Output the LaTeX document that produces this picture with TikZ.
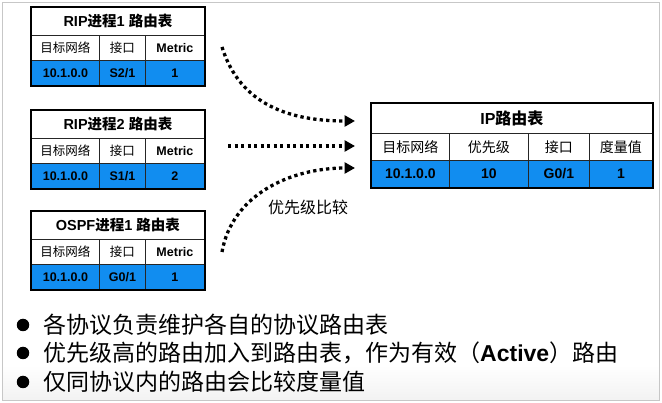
\documentclass[tikz,border=0pt]{standalone}
\usepackage{fontspec}
\setmainfont{Liberation Sans}
\newfontfamily\cjk{Noto Sans CJK SC}
\usetikzlibrary{arrows.meta}
\definecolor{cellblue}{RGB}{17,141,240}
\tikzset{
  cell/.style={draw=black!85, line width=0.8pt, anchor=north west, inner sep=0pt, align=center},
  bluecell/.style={cell, fill=cellblue},
  tabframe/.style={draw=black, line width=1.8pt},
  flow/.style={line width=3.3pt, dash pattern=on 3.3pt off 3.2pt, line cap=butt, -{Triangle[length=10.5pt,width=11pt]}},
  smtitle/.style={font=\bfseries\fontsize{14.5}{16}\selectfont},
  smhead/.style={font=\fontsize{12.5}{14}\selectfont},
  smdata/.style={font=\bfseries\fontsize{12.5}{14}\selectfont},
  bigtitle/.style={font=\bfseries\fontsize{16}{18}\selectfont},
  bighead/.style={font=\fontsize{14}{16}\selectfont},
  bigdata/.style={font=\bfseries\fontsize{14}{16}\selectfont},
  bulletdot/.style={circle, fill=black, minimum size=12.5pt, inner sep=0pt},
  bullettext/.style={anchor=west, inner sep=0pt, font=\fontsize{23}{26}\selectfont},
  cmp/.style={font=\cjk\fontsize{16}{18}\selectfont, inner sep=0pt}
}
\newcommand\smalltab[5]{%
  \node[cell, smtitle, minimum width=173pt, minimum height=28pt] (#1t) at (31,{#2}) {#3};
  \node[cell, smhead, minimum width=68pt, minimum height=25pt] (#1h1) at (31,{#2+28}) {\cjk 目标网络};
  \node[cell, smhead, minimum width=46pt, minimum height=25pt] (#1h2) at (99,{#2+28}) {\cjk 接口};
  \node[cell, smdata, minimum width=59pt, minimum height=25pt] (#1h3) at (145,{#2+28}) {Metric};
  \node[bluecell, smdata, minimum width=68pt, minimum height=25pt] (#1d1) at (31,{#2+53}) {10.1.0.0};
  \node[bluecell, smdata, minimum width=46pt, minimum height=25pt] (#1d2) at (99,{#2+53}) {#4};
  \node[bluecell, smdata, minimum width=59pt, minimum height=25pt] (#1d3) at (145,{#2+53}) {#5};
  \draw[tabframe] (#1t.north west) rectangle (#1d3.south east);
}
\begin{document}
\begin{tikzpicture}[x=1pt,y=-1pt]
\useasboundingbox (0,0) rectangle (662,403);
\fill[white] (0,0) rectangle (662,403);
\shade[top color=white, bottom color=black!5] (2,365) rectangle (659,400);
\draw[black!22, line width=0.8pt] (2,2) rectangle (659,400);

\smalltab{ta}{7}{RIP{\cjk 进程}1 {\cjk 路由表}}{S2/1}{1}
\smalltab{tb}{110}{RIP{\cjk 进程}2 {\cjk 路由表}}{S1/1}{2}
\smalltab{tc}{211}{OSPF{\cjk 进程}1 {\cjk 路由表}}{G0/1}{1}

% IP routing table
\node[cell, bigtitle, minimum width=281pt, minimum height=30pt] (ipt) at (371,103) {IP{\cjk 路由表}};
\node[cell, bighead, minimum width=78pt, minimum height=27pt] (iph1) at (371,133) {\cjk 目标网络};
\node[cell, bighead, minimum width=79pt, minimum height=27pt] (iph2) at (449,133) {\cjk 优先级};
\node[cell, bighead, minimum width=61pt, minimum height=27pt] (iph3) at (528,133) {\cjk 接口};
\node[cell, bighead, minimum width=63pt, minimum height=27pt] (iph4) at (589,133) {\cjk 度量值};
\node[bluecell, bigdata, minimum width=78pt, minimum height=27pt] (ipd1) at (371,160) {10.1.0.0};
\node[bluecell, bigdata, minimum width=79pt, minimum height=27pt] (ipd2) at (449,160) {10};
\node[bluecell, bigdata, minimum width=61pt, minimum height=27pt] (ipd3) at (528,160) {G0/1};
\node[bluecell, bigdata, minimum width=63pt, minimum height=27pt] (ipd4) at (589,160) {1};
\draw[tabframe] (ipt.north west) rectangle (ipd4.south east);

% connectors
\coordinate (sa) at (222,47);
\coordinate (sb) at (228,146);
\coordinate (sc) at (222,252);
\coordinate (ea) at (355,121);
\coordinate (eb) at (355,146);
\coordinate (ec) at (355,168);
\draw[flow] (sa) .. controls (240,105) and (290,121) .. (ea);
\draw[flow] (sb) -- (eb);
\draw[flow] (sc) .. controls (232,195) and (290,168) .. (ec);
\node[cmp] (lbl) at (308,207) {优先级比较};

% bullets
\node[bulletdot] (b1) at (23,325) {};
\node[bulletdot] (b2) at (23,353) {};
\node[bulletdot] (b3) at (23,382) {};
\node[bullettext] (l1) at (43,325) {\cjk 各协议负责维护各自的协议路由表};
\node[bullettext] (l2) at (43,353) {{\cjk 优先级高的路由加入到路由表，作为有效（}{\bfseries Active}{\cjk ）路由}};
\node[bullettext] (l3) at (43,382) {\cjk 仅同协议内的路由会比较度量值};
\end{tikzpicture}
\end{document}
